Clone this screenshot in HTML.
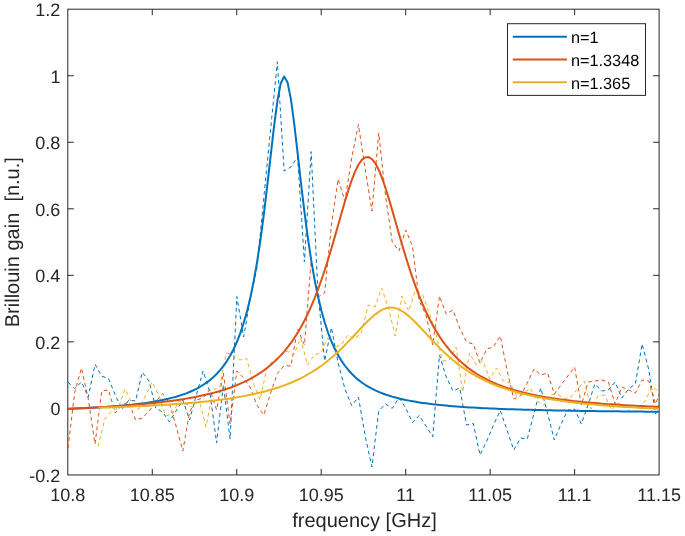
<!DOCTYPE html>
<html><head><meta charset="utf-8"><style>
html,body{margin:0;padding:0;background:#fff;width:685px;height:536px;overflow:hidden}
svg text{font-family:"Liberation Sans", sans-serif;text-rendering:geometricPrecision}
</style></head><body>
<svg width="685" height="536" viewBox="0 0 685 536" style="display:block;will-change:transform">
<defs><clipPath id="c"><rect x="67.8" y="9.2" width="591.3000000000001" height="465.75"/></clipPath></defs>
<rect x="67.8" y="9.2" width="591.3000000000001" height="465.75" fill="none" stroke="#262626" stroke-width="1"/>
<line x1="152.27" y1="474.95" x2="152.27" y2="468.95" stroke="#262626" stroke-width="1"/>
<line x1="152.27" y1="9.2" x2="152.27" y2="15.2" stroke="#262626" stroke-width="1"/>
<line x1="236.74" y1="474.95" x2="236.74" y2="468.95" stroke="#262626" stroke-width="1"/>
<line x1="236.74" y1="9.2" x2="236.74" y2="15.2" stroke="#262626" stroke-width="1"/>
<line x1="321.21" y1="474.95" x2="321.21" y2="468.95" stroke="#262626" stroke-width="1"/>
<line x1="321.21" y1="9.2" x2="321.21" y2="15.2" stroke="#262626" stroke-width="1"/>
<line x1="405.69" y1="474.95" x2="405.69" y2="468.95" stroke="#262626" stroke-width="1"/>
<line x1="405.69" y1="9.2" x2="405.69" y2="15.2" stroke="#262626" stroke-width="1"/>
<line x1="490.16" y1="474.95" x2="490.16" y2="468.95" stroke="#262626" stroke-width="1"/>
<line x1="490.16" y1="9.2" x2="490.16" y2="15.2" stroke="#262626" stroke-width="1"/>
<line x1="574.63" y1="474.95" x2="574.63" y2="468.95" stroke="#262626" stroke-width="1"/>
<line x1="574.63" y1="9.2" x2="574.63" y2="15.2" stroke="#262626" stroke-width="1"/>
<line x1="67.8" y1="408.41" x2="73.8" y2="408.41" stroke="#262626" stroke-width="1"/>
<line x1="659.1" y1="408.41" x2="653.1" y2="408.41" stroke="#262626" stroke-width="1"/>
<line x1="67.8" y1="341.88" x2="73.8" y2="341.88" stroke="#262626" stroke-width="1"/>
<line x1="659.1" y1="341.88" x2="653.1" y2="341.88" stroke="#262626" stroke-width="1"/>
<line x1="67.8" y1="275.34" x2="73.8" y2="275.34" stroke="#262626" stroke-width="1"/>
<line x1="659.1" y1="275.34" x2="653.1" y2="275.34" stroke="#262626" stroke-width="1"/>
<line x1="67.8" y1="208.81" x2="73.8" y2="208.81" stroke="#262626" stroke-width="1"/>
<line x1="659.1" y1="208.81" x2="653.1" y2="208.81" stroke="#262626" stroke-width="1"/>
<line x1="67.8" y1="142.27" x2="73.8" y2="142.27" stroke="#262626" stroke-width="1"/>
<line x1="659.1" y1="142.27" x2="653.1" y2="142.27" stroke="#262626" stroke-width="1"/>
<line x1="67.8" y1="75.74" x2="73.8" y2="75.74" stroke="#262626" stroke-width="1"/>
<line x1="659.1" y1="75.74" x2="653.1" y2="75.74" stroke="#262626" stroke-width="1"/>
<g clip-path="url(#c)">
<polyline points="68.0,382.3 74.75,388.5 81.51,381.9 88.26,397.2 95.02,364.3 101.77,376.2 108.53,378.6 115.28,395 122.03,409.5 128.79,400 135.54,401 142.3,372.2 149.05,381 155.81,408.2 162.56,412 169.31,421.8 176.07,411 182.82,400 189.58,420 196.33,395 203.09,371 209.84,392 216.59,443 223.35,385 230.1,439 236.86,296.5 243.61,337 250.37,298 257.12,267 263.87,197 270.63,129 277.38,61.8 284.14,171 290.89,167 297.65,157 304.4,262 311.15,151.6 317.91,292 324.66,361 331.42,327.6 338.17,363 344.93,389 351.68,405.7 358.43,397 365.19,436 371.94,467 378.7,411 385.45,404 392.21,408.4 398.96,397.7 405.71,408 412.47,422.5 419.22,415.4 425.98,426 432.73,436.7 439.49,355 446.24,377 452.99,391 459.75,388 466.5,425 473.26,423.5 480.01,455 486.77,441 493.52,425 500.27,410.5 507.03,430 513.78,450 520.54,438 527.29,439 534.05,413 540.8,388 547.55,413 554.31,440 561.06,424 567.82,410 574.57,409 581.33,424 588.08,405 594.83,384 601.59,391 608.34,390 615.1,382 621.85,398 628.61,389 635.36,384 642.11,344 648.87,370 655.62,414 662.38,395" fill="none" stroke="#0072BD" stroke-width="1.0" stroke-dasharray="3.8 3.1" stroke-linejoin="round"/>
<polyline points="68.0,448 74.75,392 81.51,368 88.26,399 95.02,444 101.77,391 108.53,390 115.28,413 122.03,405 128.79,402 135.54,420 142.3,418 149.05,411 155.81,402 162.56,393.5 169.31,403 176.07,426 182.82,451 189.58,412 196.33,400 203.09,398 209.84,389.5 216.59,410 223.35,373 230.1,424 236.86,371 243.61,378 250.37,388 257.12,405.5 263.87,415 270.63,393 277.38,373.5 284.14,365.5 290.89,366 297.65,329 304.4,345 311.15,261 317.91,297 324.66,293 331.42,225 338.17,179 344.93,201 351.68,158 358.43,124.5 365.19,169 371.94,211 378.7,133 385.45,195 392.21,242 398.96,251 405.71,230 412.47,246 419.22,301 425.98,315 432.73,345 439.49,296 446.24,314 452.99,310 459.75,328 466.5,342 473.26,344 480.01,363 486.77,349 493.52,347 500.27,336 507.03,370 513.78,399 520.54,396 527.29,383 534.05,369 540.8,375 547.55,373 554.31,394 561.06,385 567.82,376 574.57,367 581.33,405 588.08,382 594.83,381 601.59,380 608.34,382 615.1,404 621.85,387 628.61,390 635.36,393 642.11,380 648.87,381 655.62,404 662.38,385" fill="none" stroke="#D95319" stroke-width="1.0" stroke-dasharray="3.8 3.1" stroke-linejoin="round"/>
<polyline points="98.02,446.5 104.77,419 111.53,411 118.28,408 125.03,389 131.79,403 138.54,409.5 145.3,396 152.05,382 158.81,395 165.56,416 172.31,414 179.07,401 185.82,404 192.58,407 199.33,401 206.09,427 212.84,390 219.59,387 226.35,353 233.1,355 239.86,360 246.61,358.5 253.37,383 260.12,400 266.87,368 273.63,360 280.38,356 287.14,351 293.89,355 300.65,338 307.4,365 314.15,355 320.91,353 327.66,338 334.42,347 341.17,345 347.93,335 354.68,339 361.43,333 368.19,305 374.94,307 381.7,288 388.45,308 395.21,336 401.96,296 408.71,311 415.47,290.5 422.22,294 428.98,312 435.73,333 442.49,361 449.24,360 455.99,347 462.75,392 469.5,353 476.26,365 483.01,361 489.77,379 496.52,368 503.27,381 510.03,383 516.78,396 523.54,394 530.29,388 537.05,401 543.8,405 550.55,395 557.31,394 564.06,399 570.82,397 577.57,389 584.33,381 591.08,409 597.83,396 604.59,395 611.34,410 618.1,403 624.85,406 631.61,413 638.36,410 645.11,401 651.87,387 658.62,391 665.38,395" fill="none" stroke="#EDB120" stroke-width="1.0" stroke-dasharray="3.8 3.1" stroke-linejoin="round"/>
<polyline points="68.00,408.90 71.38,408.76 74.75,408.62 78.13,408.47 81.51,408.31 84.89,408.15 88.26,407.98 91.64,407.80 95.02,407.61 98.39,407.41 101.77,407.19 105.15,406.97 108.53,406.73 111.90,406.48 115.28,406.22 118.66,405.94 122.03,405.64 125.41,405.33 128.79,404.99 132.17,404.63 135.54,404.25 138.92,403.84 142.30,403.40 145.67,402.94 149.05,402.43 152.43,401.90 155.81,401.32 159.18,400.69 162.56,400.02 165.94,399.29 169.31,398.49 172.69,397.63 176.07,396.70 179.45,395.67 182.82,394.55 186.20,393.33 189.58,391.98 192.95,390.49 196.33,388.84 199.71,387.01 203.09,384.97 206.46,382.70 209.84,380.15 213.22,377.28 216.59,374.03 219.97,370.35 223.35,366.15 226.73,361.35 230.10,355.82 233.48,349.43 236.86,342.02 240.23,333.38 243.61,323.26 246.99,311.39 250.37,297.43 253.74,281.02 257.12,261.81 260.50,239.52 263.87,214.10 267.25,185.91 270.63,156.06 274.01,126.72 277.38,101.16 280.76,83.29 284.14,76.48 287.51,82.18 290.89,99.17 294.27,124.20 297.65,153.34 301.02,183.25 304.40,211.65 307.78,237.35 311.15,259.92 314.53,279.40 317.91,296.05 321.29,310.22 324.66,322.26 328.04,332.53 331.42,341.29 334.79,348.81 338.17,355.28 341.55,360.88 344.93,365.75 348.30,369.99 351.68,373.72 355.06,377.00 358.43,379.90 361.81,382.48 365.19,384.78 368.57,386.83 371.94,388.68 375.32,390.34 378.70,391.85 382.07,393.21 385.45,394.45 388.83,395.58 392.21,396.61 395.58,397.55 398.96,398.42 402.34,399.22 405.71,399.95 409.09,400.63 412.47,401.26 415.85,401.85 419.22,402.39 422.60,402.89 425.98,403.36 429.35,403.80 432.73,404.21 436.11,404.60 439.49,404.96 442.86,405.30 446.24,405.61 449.62,405.91 452.99,406.20 456.37,406.46 459.75,406.71 463.13,406.95 466.50,407.17 469.88,407.39 473.26,407.59 476.63,407.78 480.01,407.96 483.39,408.14 486.77,408.30 490.14,408.46 493.52,408.61 496.90,408.75 500.27,408.88 503.65,409.01 507.03,409.14 510.41,409.26 513.78,409.37 517.16,409.48 520.54,409.58 523.91,409.68 527.29,409.78 530.67,409.87 534.05,409.96 537.42,410.04 540.80,410.12 544.18,410.20 547.55,410.28 550.93,410.35 554.31,410.42 557.69,410.49 561.06,410.55 564.44,410.61 567.82,410.67 571.19,410.73 574.57,410.79 577.95,410.84 581.33,410.89 584.70,410.95 588.08,410.99 591.46,411.04 594.83,411.09 598.21,411.13 601.59,411.18 604.97,411.22 608.34,411.26 611.72,411.30 615.10,411.34 618.47,411.37 621.85,411.41 625.23,411.44 628.61,411.48 631.98,411.51 635.36,411.54 638.74,411.57 642.11,411.60 645.49,411.63 648.87,411.66 652.25,411.69 655.62,411.71 659.00,411.74 662.38,411.77" fill="none" stroke="#0072BD" stroke-width="2.0" stroke-linejoin="round"/>
<polyline points="68.00,408.78 71.38,408.63 74.75,408.49 78.13,408.34 81.51,408.18 84.89,408.02 88.26,407.85 91.64,407.67 95.02,407.49 98.39,407.31 101.77,407.12 105.15,406.92 108.53,406.71 111.90,406.49 115.28,406.27 118.66,406.04 122.03,405.80 125.41,405.55 128.79,405.29 132.17,405.02 135.54,404.74 138.92,404.44 142.30,404.14 145.67,403.82 149.05,403.49 152.43,403.14 155.81,402.78 159.18,402.40 162.56,402.00 165.94,401.58 169.31,401.15 172.69,400.69 176.07,400.21 179.45,399.71 182.82,399.18 186.20,398.62 189.58,398.03 192.95,397.41 196.33,396.76 199.71,396.07 203.09,395.35 206.46,394.58 209.84,393.76 213.22,392.90 216.59,391.99 219.97,391.01 223.35,389.98 226.73,388.88 230.10,387.71 233.48,386.46 236.86,385.13 240.23,383.71 243.61,382.18 246.99,380.55 250.37,378.79 253.74,376.91 257.12,374.88 260.50,372.70 263.87,370.35 267.25,367.81 270.63,365.06 274.01,362.09 277.38,358.87 280.76,355.37 284.14,351.58 287.51,347.45 290.89,342.97 294.27,338.08 297.65,332.77 301.02,326.98 304.40,320.68 307.78,313.82 311.15,306.39 314.53,298.33 317.91,289.62 321.29,280.26 324.66,270.25 328.04,259.62 331.42,248.45 334.79,236.85 338.17,224.97 341.55,213.06 344.93,201.41 348.30,190.35 351.68,180.28 355.06,171.61 358.43,164.71 361.81,159.90 365.19,157.38 368.57,157.11 371.94,159.07 375.32,163.33 378.70,169.73 382.07,178.00 385.45,187.75 388.83,198.59 392.21,210.12 395.58,221.98 398.96,233.86 402.34,245.53 405.71,256.80 409.09,267.54 412.47,277.68 415.85,287.18 419.22,296.02 422.60,304.21 425.98,311.78 429.35,318.75 432.73,325.16 436.11,331.05 439.49,336.45 442.86,341.42 446.24,345.98 449.62,350.16 452.99,354.02 456.37,357.56 459.75,360.83 463.13,363.84 466.50,366.62 469.88,369.18 473.26,371.56 476.63,373.76 480.01,375.81 483.39,377.70 486.77,379.47 490.14,381.11 493.52,382.64 496.90,384.07 500.27,385.40 503.65,386.65 507.03,387.82 510.41,388.92 513.78,389.95 517.16,390.92 520.54,391.82 523.91,392.68 527.29,393.49 530.67,394.25 534.05,394.96 537.42,395.64 540.80,396.28 544.18,396.89 547.55,397.47 550.93,398.01 554.31,398.53 557.69,399.02 561.06,399.49 564.44,399.93 567.82,400.35 571.19,400.75 574.57,401.14 577.95,401.50 581.33,401.85 584.70,402.18 588.08,402.50 591.46,402.80 594.83,403.09 598.21,403.37 601.59,403.63 604.97,403.89 608.34,404.13 611.72,404.36 615.10,404.59 618.47,404.80 621.85,405.01 625.23,405.20 628.61,405.39 631.98,405.58 635.36,405.75 638.74,405.92 642.11,406.08 645.49,406.24 648.87,406.39 652.25,406.53 655.62,406.67 659.00,406.81 662.38,406.94" fill="none" stroke="#D95319" stroke-width="2.0" stroke-linejoin="round"/>
<polyline points="98.39,407.70 101.77,407.60 105.15,407.50 108.53,407.39 111.90,407.27 115.28,407.16 118.66,407.04 122.03,406.91 125.41,406.78 128.79,406.64 132.17,406.50 135.54,406.36 138.92,406.21 142.30,406.05 145.67,405.89 149.05,405.71 152.43,405.54 155.81,405.35 159.18,405.16 162.56,404.96 165.94,404.75 169.31,404.54 172.69,404.31 176.07,404.07 179.45,403.83 182.82,403.57 186.20,403.30 189.58,403.02 192.95,402.73 196.33,402.42 199.71,402.10 203.09,401.76 206.46,401.41 209.84,401.04 213.22,400.65 216.59,400.24 219.97,399.82 223.35,399.37 226.73,398.90 230.10,398.40 233.48,397.88 236.86,397.33 240.23,396.75 243.61,396.14 246.99,395.49 250.37,394.81 253.74,394.09 257.12,393.33 260.50,392.53 263.87,391.68 267.25,390.78 270.63,389.82 274.01,388.81 277.38,387.74 280.76,386.60 284.14,385.39 287.51,384.10 290.89,382.73 294.27,381.28 297.65,379.73 301.02,378.08 304.40,376.33 307.78,374.47 311.15,372.49 314.53,370.38 317.91,368.15 321.29,365.77 324.66,363.26 328.04,360.60 331.42,357.79 334.79,354.84 338.17,351.74 341.55,348.50 344.93,345.14 348.30,341.66 351.68,338.09 355.06,334.47 358.43,330.83 361.81,327.22 365.19,323.69 368.57,320.32 371.94,317.17 375.32,314.32 378.70,311.86 382.07,309.88 385.45,308.43 388.83,307.61 392.21,307.50 395.58,308.14 398.96,309.42 402.34,311.27 405.71,313.62 409.09,316.37 412.47,319.46 415.85,322.80 419.22,326.31 422.60,329.92 425.98,333.58 429.35,337.24 432.73,340.85 436.11,344.38 439.49,347.80 442.86,351.11 446.24,354.27 449.62,357.29 452.99,360.17 456.37,362.90 459.75,365.48 463.13,367.92 466.50,370.22 469.88,372.39 473.26,374.43 476.63,376.35 480.01,378.16 483.39,379.86 486.77,381.46 490.14,382.97 493.52,384.39 496.90,385.72 500.27,386.98 503.65,388.16 507.03,389.28 510.41,390.33 513.78,391.33 517.16,392.27 520.54,393.16 523.91,394.00 527.29,394.80 530.67,395.55 534.05,396.26 537.42,396.94 540.80,397.59 544.18,398.20 547.55,398.78 550.93,399.33 554.31,399.86 557.69,400.36 561.06,400.84 564.44,401.30 567.82,401.74 571.19,402.15 574.57,402.55 577.95,402.93 581.33,403.30 584.70,403.65 588.08,403.98 591.46,404.30 594.83,404.61 598.21,404.90 601.59,405.19 604.97,405.46 608.34,405.72 611.72,405.98 615.10,406.22 618.47,406.45 621.85,406.68 625.23,406.90 628.61,407.11 631.98,407.31 635.36,407.50 638.74,407.69 642.11,407.88 645.49,408.05 648.87,408.22 652.25,408.39 655.62,408.55 659.00,408.70 662.38,408.85" fill="none" stroke="#EDB120" stroke-width="2.0" stroke-linejoin="round"/>
</g>
<g font-size="18" fill="#262626">
<text x="67.80" y="500.5" text-anchor="middle">10.8</text>
<text x="152.27" y="500.5" text-anchor="middle">10.85</text>
<text x="236.74" y="500.5" text-anchor="middle">10.9</text>
<text x="321.21" y="500.5" text-anchor="middle">10.95</text>
<text x="405.69" y="500.5" text-anchor="middle">11</text>
<text x="490.16" y="500.5" text-anchor="middle">11.05</text>
<text x="574.63" y="500.5" text-anchor="middle">11.1</text>
<text x="659.10" y="500.5" text-anchor="middle">11.15</text>
<text x="60.4" y="481.85" text-anchor="end">-0.2</text>
<text x="60.4" y="415.31" text-anchor="end">0</text>
<text x="60.4" y="348.78" text-anchor="end">0.2</text>
<text x="60.4" y="282.24" text-anchor="end">0.4</text>
<text x="60.4" y="215.71" text-anchor="end">0.6</text>
<text x="60.4" y="149.17" text-anchor="end">0.8</text>
<text x="60.4" y="82.64" text-anchor="end">1</text>
<text x="60.4" y="16.10" text-anchor="end">1.2</text>
</g>
<text x="364.5" y="527.3" text-anchor="middle" font-size="20" fill="#262626">frequency [GHz]</text>
<text transform="translate(18.6,242.2) rotate(-90)" text-anchor="middle" font-size="20" fill="#262626">Brillouin gain&#160;&#160;[n.u.]</text>
<rect x="507.5" y="23.7" width="138" height="71.7" fill="#fff" stroke="#262626" stroke-width="1"/>
<line x1="512.8" y1="36.80" x2="566.9" y2="36.80" stroke="#0072BD" stroke-width="2.0"/>
<line x1="512.8" y1="59.50" x2="566.9" y2="59.50" stroke="#D95319" stroke-width="2.0"/>
<line x1="512.8" y1="82.20" x2="566.9" y2="82.20" stroke="#EDB120" stroke-width="2.0"/>
<g font-size="16.3" fill="#000">
<text x="570.9" y="43.30">n=1</text>
<text x="570.9" y="66.00">n=1.3348</text>
<text x="570.9" y="88.70">n=1.365</text>
</g>
</svg>
</body></html>
